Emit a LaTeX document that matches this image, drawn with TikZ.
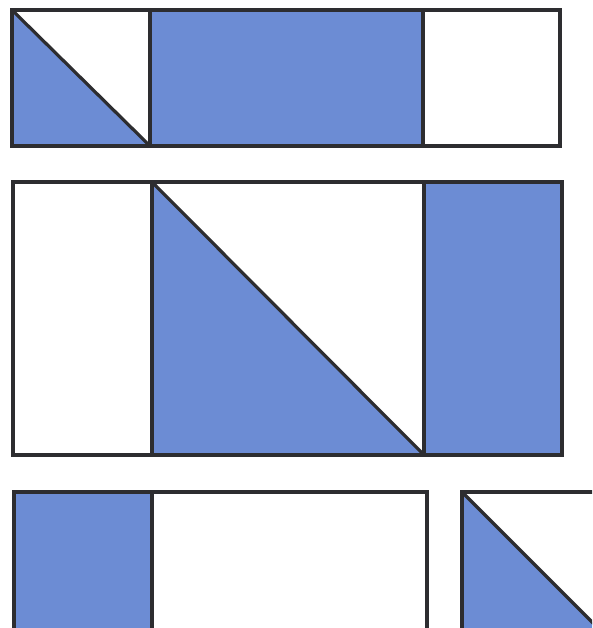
\documentclass[tikz,border=0pt]{standalone}
\definecolor{bl}{RGB}{108,140,212}
\definecolor{ln}{RGB}{45,45,48}
\begin{document}
\begin{tikzpicture}[x=1pt,y=-1pt,
  blk/.style={fill=bl},
  edge/.style={draw=ln,line width=3.2pt,line join=miter}]
\useasboundingbox (0,0) rectangle (592,628);
\clip (0,0) rectangle (592,628);
\fill[white] (0,0) rectangle (592,628);
% top row
\fill[blk] (12,10) -- (150,146) -- (12,146) -- cycle;
\fill[blk] (150,10) rectangle (423,146);
\draw[edge] (12,10) rectangle (560,146);
\draw[edge] (150,10) -- (150,146);
\draw[edge] (423,10) -- (423,146);
\draw[edge] (12,10) -- (150,146);
% middle row
\fill[blk] (152,182) -- (424,455) -- (152,455) -- cycle;
\fill[blk] (424,182) rectangle (562,455);
\draw[edge] (13,182) rectangle (562,455);
\draw[edge] (152,182) -- (152,455);
\draw[edge] (424,182) -- (424,455);
\draw[edge] (152,182) -- (424,455);
% bottom row
\fill[blk] (14,492) rectangle (152,640);
\draw[edge] (427,640) -- (427,492) -- (14,492) -- (14,640);
\draw[edge] (152,492) -- (152,640);
\fill[blk] (462,492) -- (610,640) -- (462,640) -- cycle;
\draw[edge] (462,640) -- (462,492) -- (610,492);
\draw[edge] (462,492) -- (610,640);
\end{tikzpicture}
\end{document}
